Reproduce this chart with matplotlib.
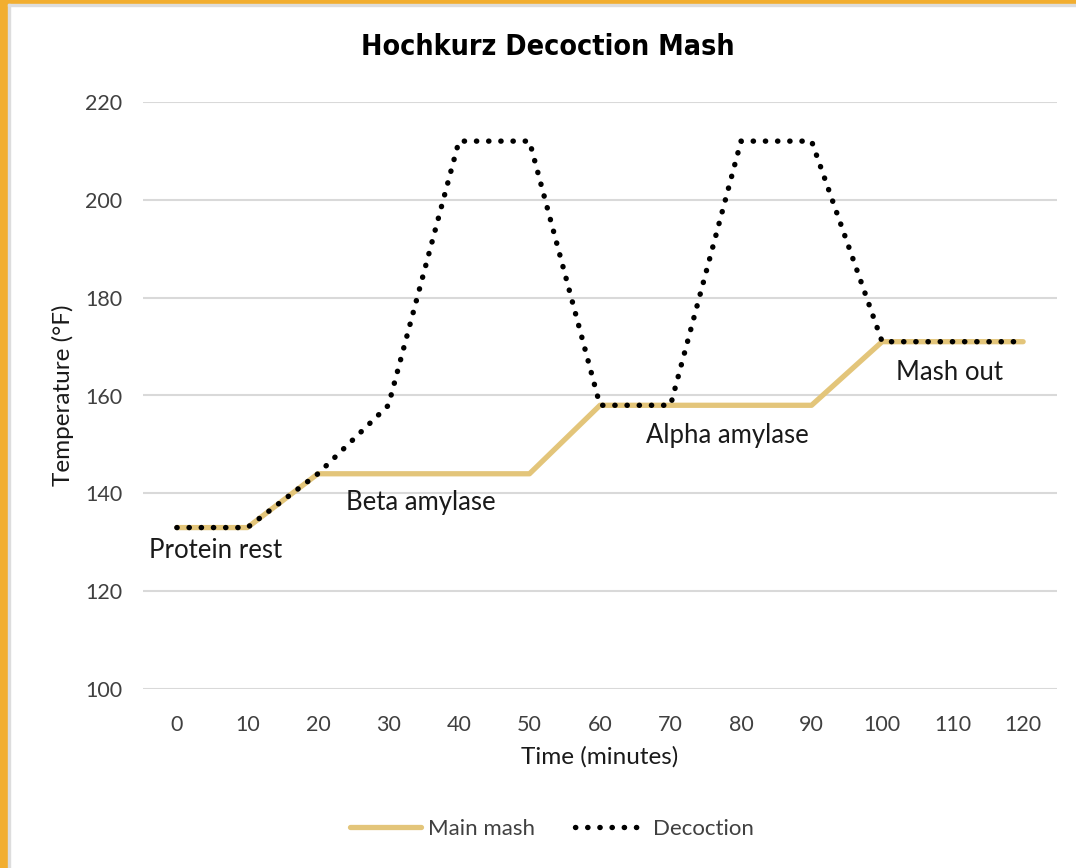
import matplotlib.pyplot as plt
from matplotlib.patches import Rectangle

# time (minutes) and temperatures (F)
minutes = [0, 10, 20, 30, 40, 50, 60, 70, 80, 90, 100, 110, 120]
main_mash = [133, 133, 144, 144, 144, 144, 158, 158, 158, 158, 171, 171, 171]
decoction = [133, 133, 144, 158, 212, 212, 158, 158, 212, 212, 171, 171, 171]

rest_labels = ["Protein rest", "Beta amylase", "Alpha amylase", "Mash out"]
rest_pos = [(-4, 128.4), (24, 138.2), (66.5, 151.9), (102, 164.6)]

plt.rcParams['font.family'] = ['Lato', 'DejaVu Sans']

fig = plt.figure(figsize=(10.76, 8.68), dpi=100)
ax = fig.add_axes([143 / 1076, 1 - 689 / 868, (1057 - 143) / 1076, (689 - 102) / 868])

# orange frame like the original slide
fig.patches.append(Rectangle((0, 0), 8 / 1076, 1, transform=fig.transFigure, color='#F2AE30', zorder=0))
fig.patches.append(Rectangle((0, 1 - 4 / 868), 1, 4 / 868, transform=fig.transFigure, color='#F2AE30', zorder=0))
fig.patches.append(Rectangle((8 / 1076, 0), 2 / 1076, 1 - 4 / 868, transform=fig.transFigure, color='#DDDDDD', zorder=0))
fig.patches.append(Rectangle((8 / 1076, 1 - 6 / 868), 1, 2 / 868, transform=fig.transFigure, color='#DDDDDD', zorder=0))

ax.plot(minutes, main_mash, color='#E3C57A', lw=3.8, solid_capstyle='round', label='Main mash', zorder=2)
ax.plot(minutes, decoction, color='black', lw=3.9, linestyle=(0, (0.05, 2.2)),
        dash_capstyle='round', label='Decoction', zorder=3)

for txt, (x, y) in zip(rest_labels, rest_pos):
    ax.text(x, y, txt, fontsize=18.5, color='#1a1a1a', va='center', ha='left')

ax.set_xlim(-4.8, 124.8)
ax.set_ylim(100, 220)
ax.set_xticks(minutes)
ax.set_yticks(range(100, 221, 20))
ax.tick_params(length=0, labelsize=15.5, colors='#404040')
ax.tick_params(axis='x', pad=19)
ax.tick_params(axis='y', pad=15)
ax.grid(axis='y', color='#D9D9D9', lw=1.5)
ax.set_axisbelow(True)
for s in ax.spines.values():
    s.set_visible(False)

ax.set_xlabel('Time (minutes)', fontsize=17.5, color='#1a1a1a', labelpad=8)
ax.set_ylabel('Temperature (°F)', fontsize=17.5, color='#1a1a1a', labelpad=8)

fig.text(548 / 1076, 1 - 47 / 868, 'Hochkurz Decoction Mash', fontsize=20.5, fontweight='bold',
         family=['DejaVu Sans'], fontstretch='condensed', ha='center', va='center')

fig.legend(loc='center', bbox_to_anchor=(552 / 1076, 1 - 829 / 868), ncol=2, frameon=False,
           fontsize=16, handlelength=3.2, columnspacing=1.8, handletextpad=0.3,
           labelcolor='#404040')

fig.savefig('out.png', dpi=100)
